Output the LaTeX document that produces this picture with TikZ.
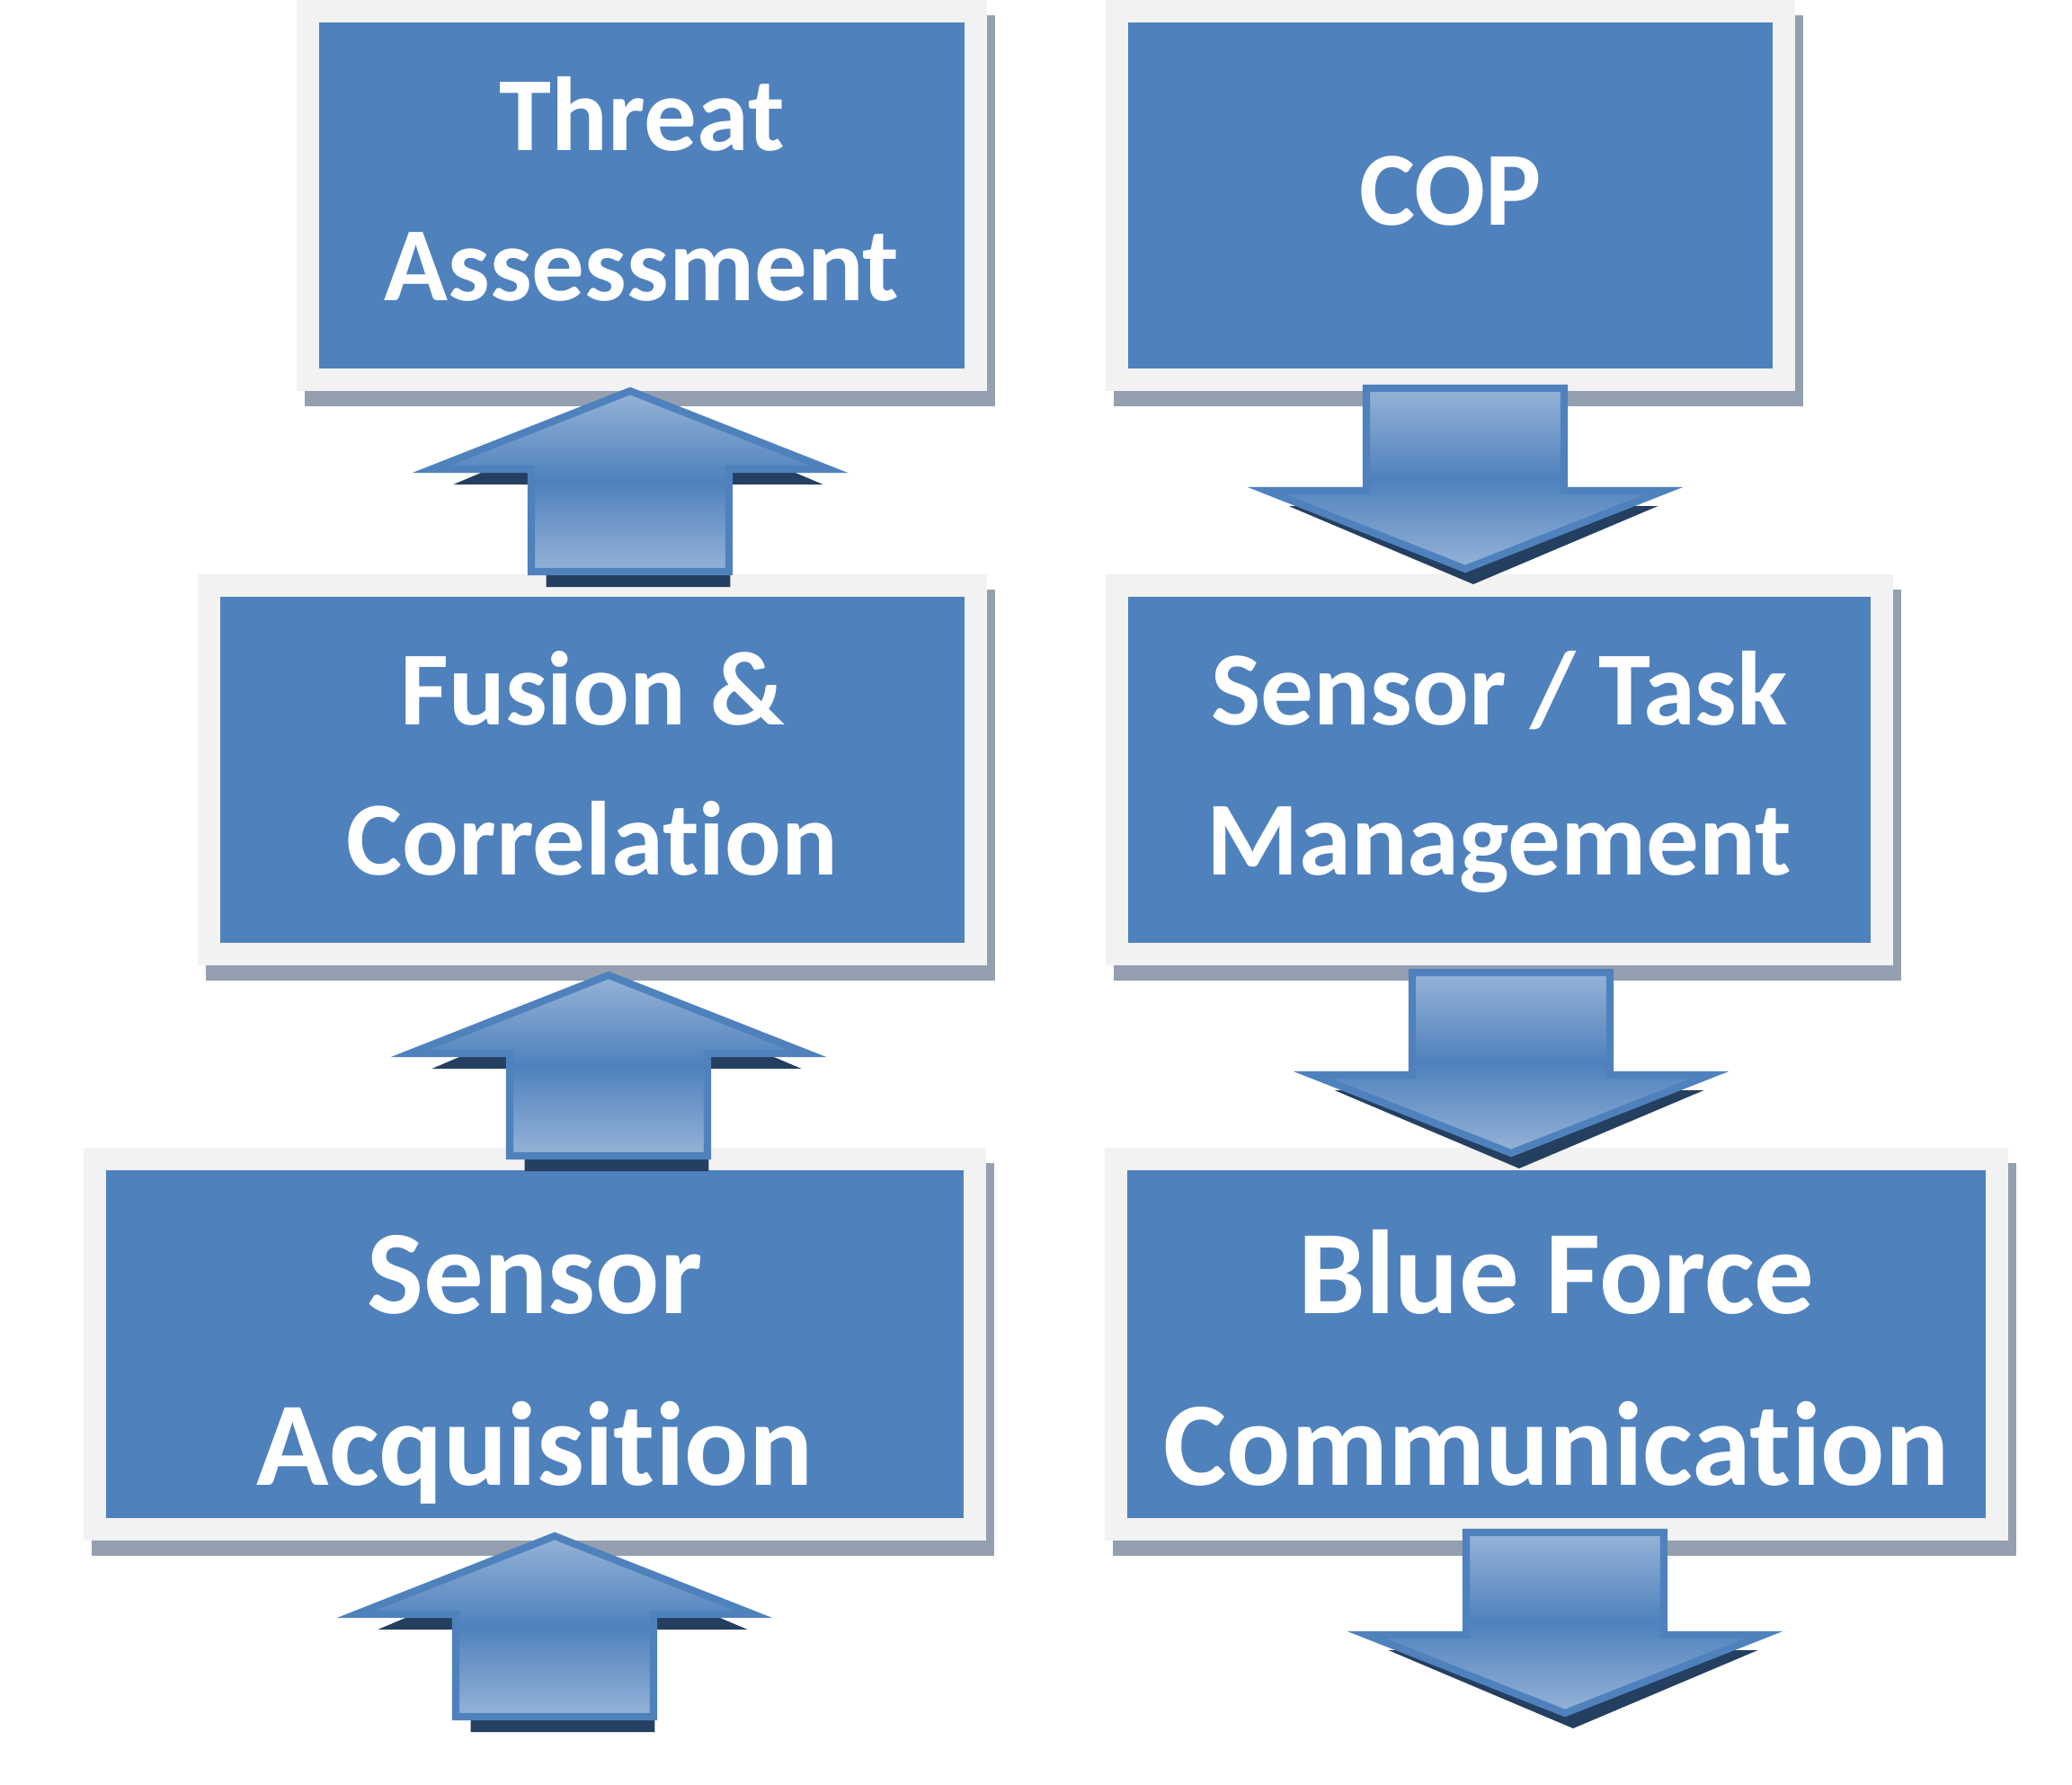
\documentclass[tikz,border=0pt]{standalone}
\usepackage{fontspec}
\setmainfont{Carlito}[Ligatures={TeX,NoCommon}]
\usepackage{xcolor}

\definecolor{boxblue}{HTML}{4F81BD}
\definecolor{framegray}{HTML}{F2F2F2}
\definecolor{boxshadow}{HTML}{94A0AF}
\definecolor{arrowlight}{HTML}{95B3D7}
\definecolor{arrowdark}{HTML}{243F60}

% struts that set the text in the boxes
\newcommand{\htop}{\rule{0pt}{28.45pt}}
\newcommand{\hbot}{\rule[-9.4pt]{0pt}{0pt}}
\newcommand{\Htop}{\rule{0pt}{45.5pt}}
\newcommand{\Hbot}{\rule[-10.5pt]{0pt}{0pt}}

\tikzset{
    arrowbody/.style={draw=boxblue, line width=2.3pt, line join=miter,
        top color=arrowlight, bottom color=arrowlight, middle color=boxblue},
    blockarrow/.pic={
        \fill[arrowdark, shift={(0.09,-0.17)}, xscale=0.93, yscale=#1]
            (0,0) -- (2.21,-0.87) -- (1.10,-0.87) -- (1.10,-2.01) -- (-1.10,-2.01) -- (-1.10,-0.87) -- (-2.21,-0.87) -- cycle;
        \draw[arrowbody, yscale=#1]
            (0,0) -- (2.21,-0.87) -- (1.10,-0.87) -- (1.10,-2.01) -- (-1.10,-2.01) -- (-1.10,-0.87) -- (-2.21,-0.87) -- cycle;
    }
}

\begin{document}
\begin{tikzpicture}[
    box/.style={rectangle, fill=boxblue, text=white, align=center, inner sep=0pt, minimum height=3.85cm,
        preaction={fill=boxshadow, draw=boxshadow, line width=14.23pt, transform canvas={xshift=0.09cm, yshift=-0.17cm}},
        preaction={draw=framegray, line width=14.23pt}},
    boxfont/.style={font=\bfseries\fontsize{33.3}{47.5}\selectfont},
    bigfont/.style={font=\bfseries\fontsize{37.8}{54.1}\selectfont}]
    \useasboundingbox (0,0) rectangle (23.05,-19.86);

    % left column goes up, right column goes down
    \node[box, boxfont, minimum width=7.18cm] (threat) at (7.14,-2.175) {\htop Threat\\Assessment\hbot};
    \node[box, boxfont, minimum width=7.17cm] (cop) at (16.135,-2.175) {\htop COP\hbot};
    \node[box, boxfont, minimum width=8.28cm] (fusion) at (6.59,-8.565) {\htop Fusion \&\\Correlation\hbot};
    \node[box, boxfont, minimum width=8.26cm] (tasking) at (16.68,-8.565) {\htop Sensor / Task\\Management\hbot};
    \node[box, bigfont, minimum width=9.54cm] (acquisition) at (5.95,-14.955) {\Htop Sensor\\Acquisition\Hbot};
    \node[box, bigfont, minimum width=9.55cm] (blueforce) at (17.315,-14.955) {\Htop Blue Force\\Communication\Hbot};

    \pic (up1) at (7.01,-4.35) {blockarrow=1};
    \pic (up2) at (6.77,-10.85) {blockarrow=1};
    \pic (up3) at (6.17,-17.09) {blockarrow=1};
    \pic (down1) at (16.30,-6.33) {blockarrow=-1};
    \pic (down2) at (16.81,-12.83) {blockarrow=-1};
    \pic (down3) at (17.41,-19.06) {blockarrow=-1};
\end{tikzpicture}
\end{document}
